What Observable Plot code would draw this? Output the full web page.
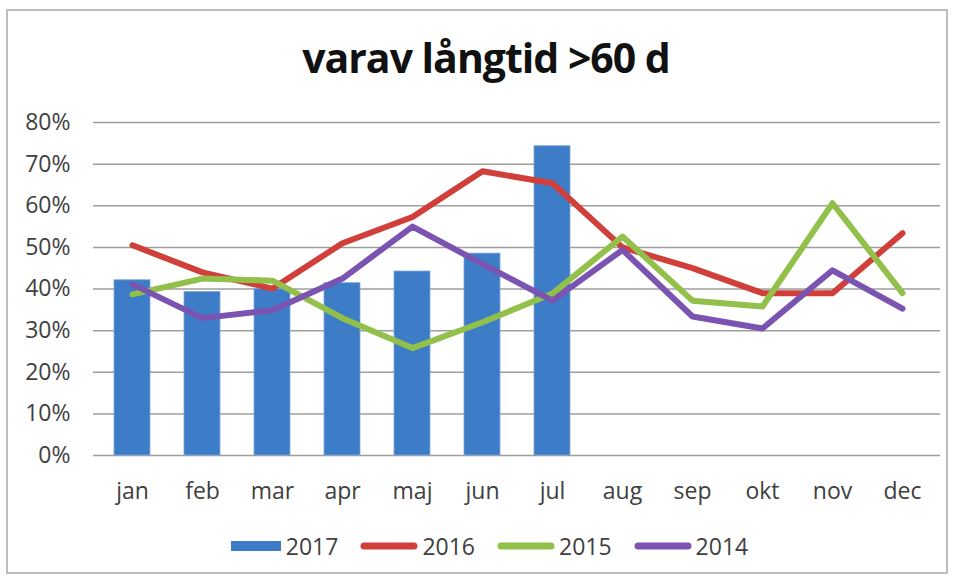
<!DOCTYPE html>
<html>
<head>
<meta charset="utf-8">
<script src="https://cdn.jsdelivr.net/npm/d3@7"></script>
<script src="https://cdn.jsdelivr.net/npm/@observablehq/plot@0.6"></script>
<style>
  html, body { margin: 0; padding: 0; background: #fff; }
  #wrap { position: relative; width: 954px; height: 583px; overflow: hidden; font-family: "Open Sans", sans-serif; }
  #frame { position: absolute; left: 6px; top: 9px; width: 942px; height: 565px; border: 2px solid #bdbdbd; box-sizing: border-box; }
  #title { position: absolute; left: 0; width: 972px; top: 33px; text-align: center; font-weight: 700; font-size: 41px; line-height: 48px; color: #111; letter-spacing: -1px; }
  #chart { position: absolute; left: 0; top: 100px; }
  #legend { position: absolute; left: 12px; width: 954px; top: 530px; display: flex; justify-content: center; gap: 22px; font-size: 23px; line-height: 32px; color: #404040; }
  #legend .item { display: flex; align-items: center; gap: 4px; }
  #legend svg { display: block; }
</style>
</head>
<body>
<div id="wrap">
  <div id="frame"></div>
  <div id="title">varav långtid &gt;60 d</div>
  <div id="chart"></div>
  <div id="legend"></div>
</div>
<script>
const months = ["jan","feb","mar","apr","maj","jun","jul","aug","sep","okt","nov","dec"];
const v2017 = [0.421, 0.393, 0.400, 0.414, 0.442, 0.485, 0.743];
const v2016 = [0.505, 0.440, 0.401, 0.510, 0.573, 0.683, 0.654, 0.500, 0.450, 0.390, 0.390, 0.534];
const v2015 = [0.387, 0.425, 0.420, 0.330, 0.258, 0.320, 0.389, 0.526, 0.372, 0.358, 0.606, 0.390];
const v2014 = [0.411, 0.330, 0.349, 0.425, 0.550, 0.460, 0.372, 0.494, 0.334, 0.305, 0.445, 0.353];
const yTicks = [0, 0.1, 0.2, 0.3, 0.4, 0.5, 0.6, 0.7, 0.8];
const seriesNames = ["2017", "2016", "2015", "2014"];
const colors = ["#3d7cc6", "#d03f3a", "#92c04a", "#7a54b0"];

const bars = v2017.map((v, i) => ({month: months[i], value: v}));
const lines = [
  ...v2016.map((v, i) => ({month: months[i], value: v, series: "2016"})),
  ...v2015.map((v, i) => ({month: months[i], value: v, series: "2015"})),
  ...v2014.map((v, i) => ({month: months[i], value: v, series: "2014"}))
];

const plot = Plot.plot({
  width: 954,
  height: 420,
  marginTop: 22,
  marginBottom: 65,
  marginLeft: 93,
  marginRight: 14,
  style: {fontFamily: "Open Sans, sans-serif", fontSize: "23px", color: "#404040", background: "transparent"},
  x: {domain: months, type: "band", paddingInner: 0.49, paddingOuter: 0.245, label: null},
  y: {domain: [0, 0.8], label: null},
  color: {domain: seriesNames, range: colors},
  marks: [
    Plot.ruleY(yTicks, {stroke: "#9e9e9e", strokeWidth: 1.5}),
    Plot.barY(bars, {x: "month", y: "value", fill: colors[0], stroke: "#7fa9dc", strokeWidth: 0.8}),
    Plot.line(lines, {x: "month", y: "value", z: "series", stroke: d => d.series, strokeWidth: 6, strokeLinejoin: "round", strokeLinecap: "round"}),
    Plot.axisX({tickSize: 0, tickPadding: 27, fontSize: 23, fill: "#404040"}),
    Plot.axisY(yTicks, {tickSize: 0, tickPadding: 23, tickFormat: d => Math.round(d * 100) + "%", fontSize: 23, fill: "#404040"})
  ]
});
document.getElementById("chart").appendChild(plot);

const legend = document.getElementById("legend");
seriesNames.forEach((name, i) => {
  const item = document.createElement("div");
  item.className = "item";
  const sw = i === 0
    ? `<svg width="52" height="14"><rect x="1" y="2" width="50" height="10" fill="${colors[0]}"/></svg>`
    : `<svg width="58" height="14"><line x1="4" y1="7" x2="54" y2="7" stroke="${colors[i]}" stroke-width="7" stroke-linecap="round"/></svg>`;
  item.innerHTML = sw + `<span>${name}</span>`;
  legend.appendChild(item);
});
</script>
</body>
</html>
